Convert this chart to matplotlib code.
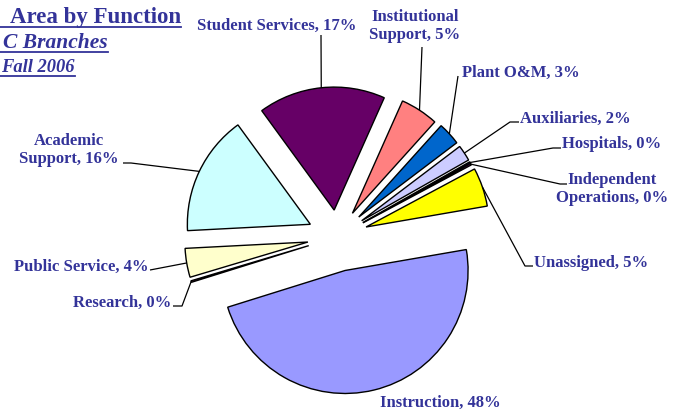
import numpy as np
import matplotlib
matplotlib.use("Agg")
import matplotlib.pyplot as plt
from matplotlib.lines import Line2D

# data (Excel series order, drawn clockwise)
names = ["Instruction", "Research", "Public Service", "Academic\nSupport",
         "Student Services", "Institutional\nSupport", "Plant O&M",
         "Auxiliaries", "Hospitals", "Independent\nOperations", "Unassigned"]
shares = [47.9, 0.2, 3.8, 15.8, 16.7, 5.0, 3.0, 2.1, 0.2, 0.2, 5.1]
shown_pct = [48, 0, 4, 16, 17, 5, 3, 2, 0, 0, 5]
colors = ["#9999FF", "#993366", "#FFFFCC", "#CCFFFF", "#660066", "#FF8080",
          "#0066CC", "#CCCCFF", "#000080", "#FF00FF", "#FFFF00"]
title_lines = ["Area by Function", "C Branches", "Fall 2006"]

W, H = 676, 413
txt_color = "#333399"
serif = "Liberation Serif"

fig = plt.figure(figsize=(W / 100, H / 100), dpi=100)
ax = fig.add_axes([0, 0, 1, 1])

def py(y):
    # pixel row (from top) -> data y
    return H - y

radius = 123
explode = [0.28, 0.24, 0.24, 0.24, 0.22, 0.23, 0.24, 0.24, 0.24, 0.24, 0.25]
wedges, _ = ax.pie(shares, colors=colors, startangle=9.8, counterclock=False,
                   radius=radius, center=(337, py(237)),
                   explode=[e * radius for e in explode],
                   wedgeprops=dict(edgecolor="black", linewidth=1.0))
ax.set_xlim(0, W)
ax.set_ylim(0, H)
ax.set_aspect("auto")
ax.axis("off")

# label layout: text position (px), alignment, leader path after the wedge point
layout = [
    ((440, 403), "center", None),
    ((171, 303), "right", [(182, 306), (173, 306)]),
    ((148, 267), "right", [(150, 270)]),
    ((69, 150), "center", [(131, 163), (123, 163)]),
    ((277, 26), "center", [(321, 35)]),
    ((415, 26), "center", [(422, 47)]),
    ((462, 73), "left", [(458, 76)]),
    ((520, 119), "left", [(510, 122), (519, 122)]),
    ((562, 144), "left", [(553, 148), (561, 148)]),
    ((612, 189), "center", [(560, 184), (567, 184)]),
    ((534, 263), "left", [(525, 266), (533, 266)]),
]

for w, name, pct, (pos, ha, path) in zip(wedges, names, shown_pct, layout):
    ax.text(pos[0], py(pos[1]), f"{name}, {pct}%", ha=ha, va="center",
            multialignment="center", fontsize=12, fontweight="bold",
            family=serif, color=txt_color, linespacing=1.1)
    if path is None:
        continue
    mid = np.deg2rad((w.theta1 + w.theta2) / 2)
    cx, cy = w.center
    xs = [cx + w.r * np.cos(mid)] + [p[0] for p in path]
    ys = [cy + w.r * np.sin(mid)] + [py(p[1]) for p in path]
    ax.plot(xs, ys, color="black", lw=0.9, solid_capstyle="butt")

# title block at the left edge, underlined
title_specs = [(181, 23, 16.5, "normal"), (108, 48, 15.5, "italic"), (75, 72, 13.3, "italic")]
title_texts = []
for line, (xr, yb, fs, st) in zip(title_lines, title_specs):
    t = ax.text(xr, py(yb), line, ha="right", va="baseline", fontsize=fs,
                fontweight="bold", fontstyle=st, family=serif, color=txt_color)
    title_texts.append((t, yb))

fig.canvas.draw()
r = fig.canvas.get_renderer()
for t, yb in title_texts:
    bb = t.get_window_extent(r)
    fig.add_artist(Line2D([0, bb.x1 / W], [(H - yb - 4) / H] * 2,
                          transform=fig.transFigure, color=txt_color, lw=1.3))

fig.savefig("out.png", dpi=100)
